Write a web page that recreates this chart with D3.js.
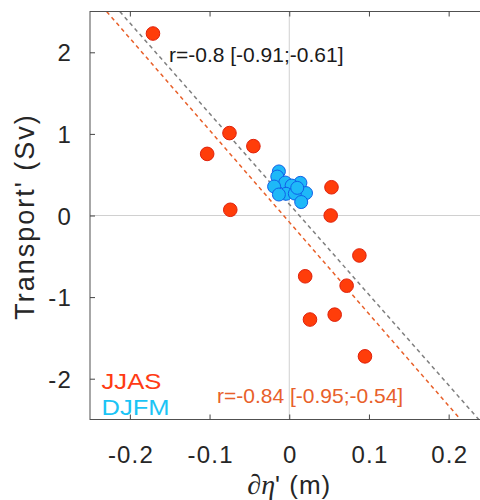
<!DOCTYPE html>
<html>
<head>
<meta charset="utf-8">
<script src="https://cdn.jsdelivr.net/npm/d3@7"></script>
<style>
  html, body { margin: 0; padding: 0; background: #fff; }
  svg text { font-family: "Liberation Sans", Arial, Helvetica, sans-serif; }
</style>
</head>
<body>
<svg id="chart" width="480" height="500"></svg>
<script>
// ---- data ----
const jjasX = [-0.171, -0.075, -0.103, -0.045, -0.074, 0.053, 0.052, 0.088, 0.020, 0.072, 0.026, 0.057, 0.095];
const jjasY = [2.23, 1.01, 0.755, 0.85, 0.07, 0.346, 0.00, -0.49, -0.745, -0.86, -1.275, -1.215, -1.726];
const djfmX = [-0.013, -0.015, -0.005, 0.014, -0.019, 0.003, 0.021, -0.004, -0.013, 0.007, 0.015, 0.010];
const djfmY = [0.54, 0.477, 0.404, 0.40, 0.355, 0.367, 0.275, 0.266, 0.257, 0.269, 0.165, 0.339];
// regression lines: [intercept, slope]
const fitAll = [0.14, -11.1];
const fitJJAS = [-0.08, -11.26];
const xTicks = [-0.2, -0.1, 0, 0.1, 0.2];
const yTicks = [-2, -1, 0, 1, 2];
const textAll = "r=-0.8 [-0.91;-0.61]";
const textJJAS = "r=-0.84 [-0.95;-0.54]";
const legendLabels = ["JJAS", "DJFM"];

// ---- layout ----
const svg = d3.select("#chart");
const L = 90, R = 488.5, T = 11.5, B = 419.5;
const x = d3.scaleLinear().domain([-0.25, 0.25]).range([L, R]);
const y = d3.scaleLinear().domain([-2.5, 2.5]).range([B, T]);

const red = "#FF3D0A", redStroke = "#E0200A";
const blue = "#1EB8F8", blueStroke = "#1060E8";
const orange = "#E8602A";
const ink = "#262626";

svg.append("defs").append("clipPath").attr("id", "clip")
  .append("rect").attr("x", L).attr("y", T).attr("width", R - L).attr("height", B - T);

// zero lines
svg.append("line").attr("x1", x(0)).attr("x2", x(0)).attr("y1", T).attr("y2", B)
  .attr("stroke", "#d0d0d0").attr("stroke-width", 1);
svg.append("line").attr("x1", L).attr("x2", R).attr("y1", y(0)).attr("y2", y(0))
  .attr("stroke", "#d0d0d0").attr("stroke-width", 1);

// regression lines
function fitLine(fit, color) {
  const ys = [2.5, -2.5];
  const pts = ys.map(v => [(v - fit[0]) / fit[1], v]);
  svg.append("line")
    .attr("clip-path", "url(#clip)")
    .attr("x1", x(pts[0][0])).attr("y1", y(pts[0][1]))
    .attr("x2", x(pts[1][0])).attr("y2", y(pts[1][1]))
    .attr("stroke", color).attr("stroke-width", 1.5)
    .attr("stroke-dasharray", "4,3.5");
}
fitLine(fitAll, "#7f7f7f");
fitLine(fitJJAS, orange);

// points
svg.append("g").selectAll("circle").data(d3.zip(jjasX, jjasY)).join("circle")
  .attr("cx", d => x(d[0])).attr("cy", d => y(d[1])).attr("r", 6.8)
  .attr("fill", red).attr("stroke", redStroke).attr("stroke-width", 1);
svg.append("g").selectAll("circle").data(d3.zip(djfmX, djfmY)).join("circle")
  .attr("cx", d => x(d[0])).attr("cy", d => y(d[1])).attr("r", 6.5)
  .attr("fill", blue).attr("stroke", blueStroke).attr("stroke-width", 1);

// box
svg.append("rect").attr("x", L).attr("y", T).attr("width", R - L).attr("height", B - T)
  .attr("fill", "none").attr("stroke", "#505050").attr("stroke-width", 1);

// axes (inward ticks)
const xb = svg.append("g").attr("transform", `translate(0,${B})`)
  .call(d3.axisBottom(x).tickValues(xTicks).tickSizeInner(-5).tickSizeOuter(0).tickPadding(26)
    .tickFormat(d => d === 0 ? "0" : d3.format(".1f")(d).replace("−", "-")));
const xt = svg.append("g").attr("transform", `translate(0,${T})`)
  .call(d3.axisTop(x).tickValues(xTicks).tickSizeInner(-5).tickSizeOuter(0).tickFormat(""));
const yl = svg.append("g").attr("transform", `translate(${L},0)`)
  .call(d3.axisLeft(y).tickValues(yTicks).tickSizeInner(-5).tickSizeOuter(0).tickPadding(18)
    .tickFormat(d => String(d)));
[xb, xt, yl].forEach(g => {
  g.select(".domain").remove();
  g.selectAll(".tick line").attr("stroke", "#444");
  g.selectAll(".tick text").attr("fill", ink).attr("font-size", 24)
    .attr("letter-spacing", 1.2)
    .style("font-family", '"Liberation Sans", Arial, Helvetica, sans-serif');
});
xb.selectAll(".tick text").attr("dy", "0.71em").attr("dx", 0.6);
yl.selectAll(".tick text").attr("dy", "0.36em");

// axis labels
const xlab = svg.append("text").attr("x", x(0)).attr("y", 494).attr("text-anchor", "middle")
  .attr("font-size", 26).attr("fill", ink);
xlab.append("tspan").attr("font-family", '"Liberation Serif", "Times New Roman", serif')
  .attr("font-style", "italic").attr("font-size", 28).text("∂η");
xlab.append("tspan").attr("letter-spacing", 1).text("' (m)");
svg.append("text").attr("transform", `translate(33.5,${(T + B) / 2 + 1}) rotate(-90)`)
  .attr("text-anchor", "middle").attr("font-size", 27).attr("letter-spacing", 2)
  .attr("fill", ink)
  .text("Transport' (Sv)");

// annotations
svg.append("text").attr("x", 169).attr("y", 61.5).attr("font-size", 21).attr("fill", "#1a1a1a")
  .text(textAll);
svg.append("text").attr("x", 217).attr("y", 402.7).attr("font-size", 21).attr("fill", orange)
  .text(textJJAS);

// legend
svg.append("text").attr("x", 101.5).attr("y", 389.3).attr("font-size", 22).attr("fill", "#FF3B14")
  .attr("textLength", 60).attr("lengthAdjust", "spacingAndGlyphs")
  .text(legendLabels[0]);
svg.append("text").attr("x", 101.5).attr("y", 415).attr("font-size", 22).attr("fill", "#1BC4F5")
  .attr("textLength", 68).attr("lengthAdjust", "spacingAndGlyphs")
  .text(legendLabels[1]);
</script>
</body>
</html>
